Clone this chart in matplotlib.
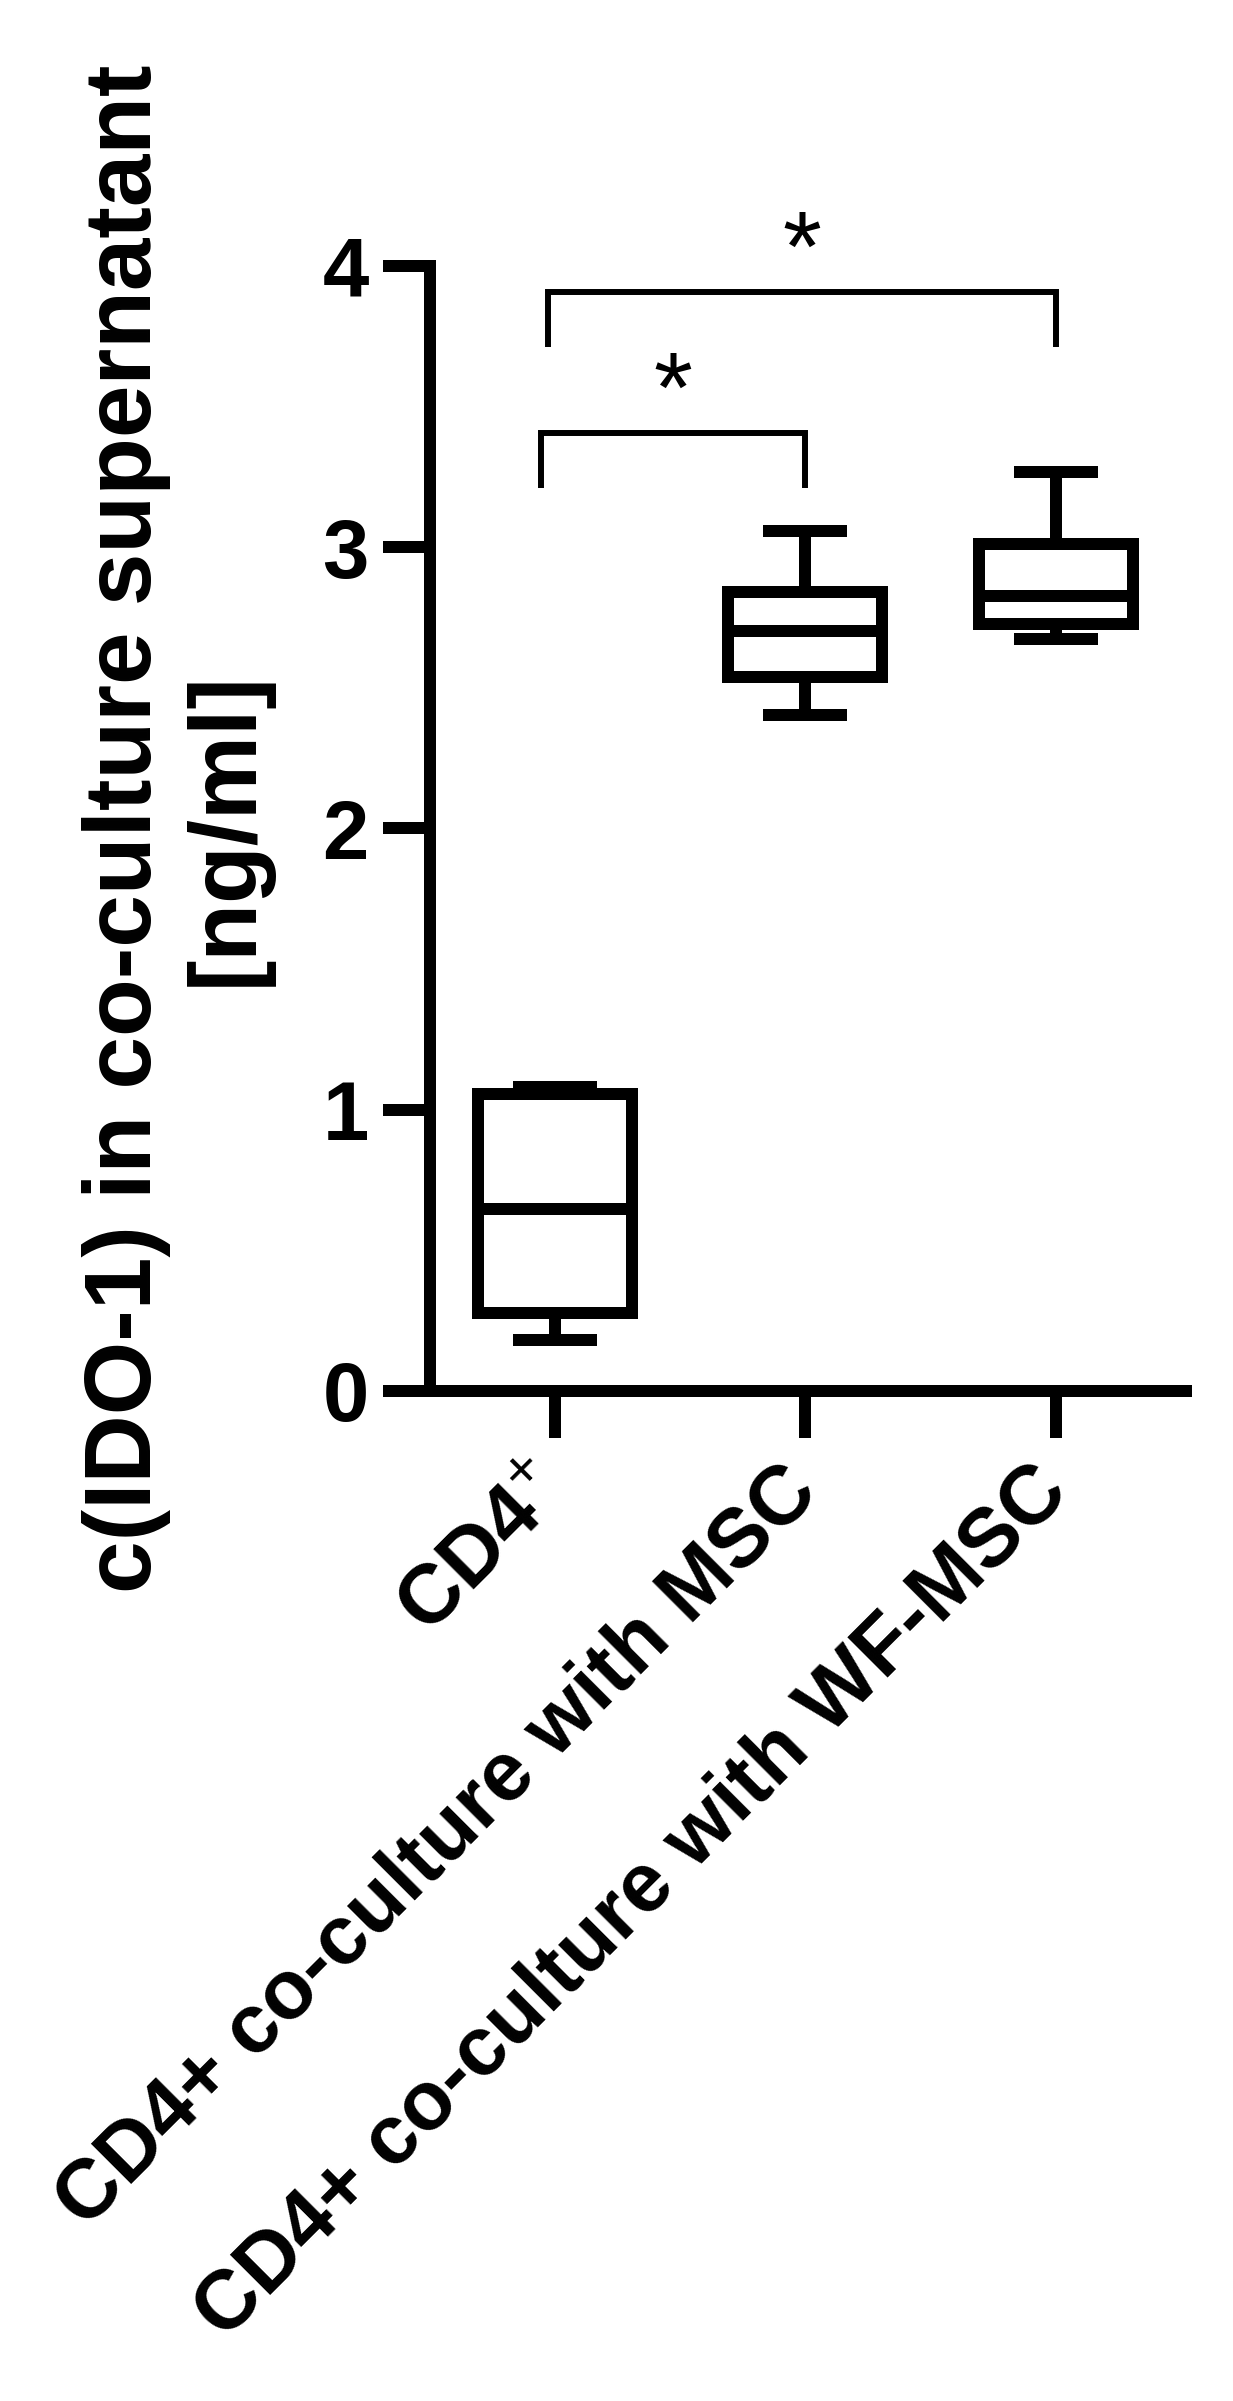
import matplotlib
matplotlib.use('Agg')
import matplotlib.pyplot as plt
import matplotlib.transforms as mtransforms

plt.rcParams['font.family'] = ['Liberation Sans', 'DejaVu Sans']
plt.rcParams['mathtext.fontset'] = 'custom'
plt.rcParams['mathtext.rm'] = 'Liberation Sans'
plt.rcParams['mathtext.bf'] = 'Liberation Sans:bold'

# data (ng/ml)
groups = [r'$\mathbf{CD4}^{+}$', 'CD4+ co-culture with MSC', 'CD4+ co-culture with WF-MSC']
whis_low = [0.183, 2.403, 2.675]
q1 = [0.277, 2.538, 2.727]
median = [0.648, 2.701, 2.825]
q3 = [1.056, 2.841, 3.010]
whis_high = [1.082, 3.058, 3.268]

# significance brackets: (x left, x right, top, leg bottom, label)
brackets = [(0.944, 2.0, 3.406, 3.21, '*'),
            (0.972, 3.0, 3.908, 3.712, '*')]
star_y = [3.63, 4.133]

LW = 8.64  # 12 px at 100 dpi

fig = plt.figure(figsize=(12.33, 24.01), dpi=100)
ax = fig.add_axes([0.3487, 0.42066, 0.6131, 0.46856])

stats = []
for i in range(len(groups)):
    stats.append(dict(med=median[i], q1=q1[i], q3=q3[i],
                      whislo=whis_low[i], whishi=whis_high[i]))

ax.bxp(stats, positions=[1, 2, 3], widths=0.615, capwidths=0.335,
       showfliers=False, patch_artist=True,
       boxprops=dict(facecolor='white', edgecolor='black', linewidth=LW, joinstyle='miter'),
       medianprops=dict(color='black', linewidth=LW, solid_capstyle='butt'),
       whiskerprops=dict(color='black', linewidth=LW, solid_capstyle='butt'),
       capprops=dict(color='black', linewidth=LW, solid_capstyle='butt'))

for (xl, xr, top, bot, lab), sy in zip(brackets, star_y):
    ax.plot([xl, xl, xr, xr], [bot, top, top, bot], color='black', lw=4.3,
            solid_joinstyle='miter', solid_capstyle='butt', clip_on=False)
    ax.text((xl + xr) / 2, sy - 0.185, lab, ha='center', va='baseline',
            fontsize=72, clip_on=False)

ax.set_xlim(0.5, 3.52)
ax.set_ylim(0, 4)
ax.set_yticks([0, 1, 2, 3, 4])
ax.set_xticks([1, 2, 3])
ax.set_xticklabels(groups, rotation=45, ha='right', rotation_mode='anchor',
                   fontsize=60, fontweight='bold')
ax.tick_params(axis='y', labelsize=60, length=34, width=LW, pad=10)
ax.tick_params(axis='x', length=34, width=LW, pad=14)
for lab in ax.get_yticklabels():
    lab.set_fontweight('bold')

# nudge the rotated labels slightly left, like the original
shift = mtransforms.ScaledTranslation(-0.28, 0.06, fig.dpi_scale_trans)
for lab in ax.get_xticklabels():
    lab.set_transform(lab.get_transform() + shift)

for s in ['top', 'right']:
    ax.spines[s].set_visible(False)
for s in ['left', 'bottom']:
    ax.spines[s].set_linewidth(LW)

ax.set_ylabel('c(IDO-1) in co-culture supernatant\n[ng/ml]', fontsize=68,
              fontweight='bold', linespacing=1.17)
ax.yaxis.set_label_coords(-0.209, 0.5)

fig.savefig('out.png', dpi=100, facecolor='white')
